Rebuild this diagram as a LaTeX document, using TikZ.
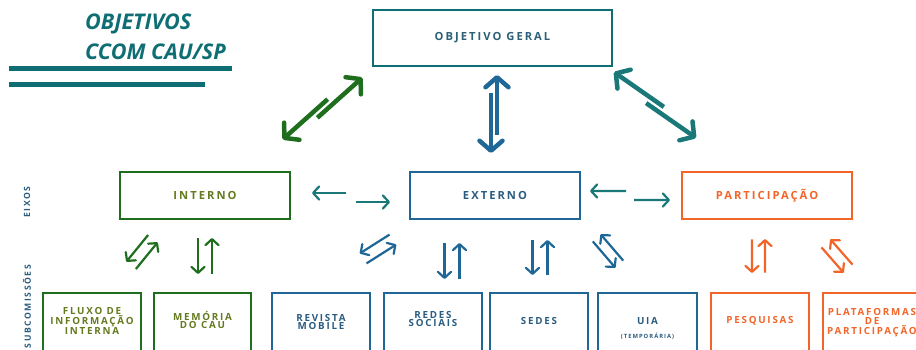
\documentclass[tikz,border=0pt]{standalone}
\usepackage{fontspec}
\setmainfont{Open Sans}
\newfontfamily\espacada{Open Sans}[LetterSpace=18]
\usetikzlibrary{arrows.meta,calc}
\definecolor{tealcau}{HTML}{0F6E73}
\definecolor{tealseta}{HTML}{1A7878}
\definecolor{verde}{HTML}{1E6E1E}
\definecolor{oliva}{HTML}{647A1E}
\definecolor{azul}{HTML}{1F6796}
\definecolor{textoazul}{HTML}{2A5C80}
\definecolor{textogeral}{HTML}{2B6076}
\definecolor{laranja}{HTML}{F2652A}

% par de setas opostas: estilo, ponta 1, ponta 2, fracao, afastamento
\newcommand{\setas}[5]{%
  \draw[#1] ($(#2)!#4!(#3)!#5!90:(#3)$) -- ($(#2)!#5!90:(#3)$);
  \draw[#1] ($(#3)!#4!(#2)!#5!90:(#2)$) -- ($(#3)!#5!90:(#2)$);
}

\begin{document}
\begin{tikzpicture}[x=1pt,y=-1pt,
	caixa/.style={rectangle,draw,line width=2.8pt,minimum width=170pt,minimum height=47pt,
		font={\espacada\bfseries\fontsize{11.2}{13}\selectfont}},
	sub/.style={rectangle,draw,line width=2pt,minimum width=98pt,minimum height=100pt,anchor=north},
	subtxt/.style={align=center,inner sep=0pt,font={\espacada\bfseries\fontsize{9.8}{8.9}\selectfont}},
	seta/.style={line width=2.2pt,-{Straight Barb[length=6pt,width=13pt,round]}},
	setagrande/.style={line width=4.5pt,-{Straight Barb[length=10pt,width=23pt,round]}},
	lateral/.style={rotate=90,inner sep=0pt,text=textoazul,font={\espacada\bfseries\fontsize{8.6}{9}\selectfont}},
	titulo/.style={anchor=base west,inner sep=0pt,text=tealcau,font={\bfseries\itshape\fontsize{21.6}{24}\selectfont}}]
	\useasboundingbox (0,0) rectangle (916,349);

	% titulo
	\node (tit1) at (85,29) [titulo] {OBJETIVOS};
	\node (tit2) at (85,59) [titulo] {CCOM CAU/SP};
	\fill[tealcau] (9,66) rectangle (232,71);
	\fill[tealcau] (9,82) rectangle (205,87);

	% eixos
	\node (geral) at (492.5,38) [caixa,draw=tealcau,minimum width=239pt,minimum height=56pt,text=textogeral] {OBJETIVO GERAL};
	\node (interno) at (205,195.5) [caixa,draw=verde,text=oliva] {INTERNO};
	\node (externo) at (495,195.5) [caixa,draw=azul,text=textoazul] {EXTERNO};
	\node (partic) at (767,195.5) [caixa,draw=laranja,text=laranja] {PARTICIPAÇÃO};
	\node (eixos) at (27,202) [lateral] {EIXOS};
	\node (subcom) at (27,265) [lateral,anchor=east] {SUBCOMISSÕES};

	% subcomissoes
	\node (fluxo) at (92,292) [sub,draw=verde] {};
	\node (memoria) at (202.5,292) [sub,draw=verde,minimum width=97pt] {};
	\node (revista) at (321,292) [sub,draw=azul] {};
	\node (redes) at (433,292) [sub,draw=azul] {};
	\node (sedes) at (539,292) [sub,draw=azul] {};
	\node (uia) at (647.5,292) [sub,draw=azul,minimum width=99pt] {};
	\node (pesq) at (760,292) [sub,draw=laranja] {};
	\node (plat) at (872,292) [sub,draw=laranja] {};
	\node (fluxo-t) at ([yshift=-29pt]fluxo.north) [subtxt,text=oliva] {FLUXO DE\\INFORMAÇÃO\\INTERNA};
	\node (memoria-t) at ([yshift=-28pt]memoria.north) [subtxt,text=oliva] {MEMÓRIA\\DO CAU};
	\node (revista-t) at ([yshift=-30pt]revista.north) [subtxt,text=textoazul] {REVISTA\\MOBILE};
	\node (redes-t) at ([yshift=-27pt]redes.north) [subtxt,text=textoazul] {REDES\\SOCIAIS};
	\node (sedes-t) at ([yshift=-29pt]sedes.north) [subtxt,text=textoazul] {SEDES};
	\node (uia-t) at ([yshift=-36pt]uia.north) [subtxt,text=textoazul] {UIA\\[5pt]{\fontsize{5.8}{6}\selectfont(TEMPORÁRIA)}};
	\node (pesq-t) at ([yshift=-29pt]pesq.north) [subtxt,text=laranja] {PESQUISAS};
	\node (plat-t) at ([yshift=-31pt]plat.north) [subtxt,text=laranja] {PLATAFORMAS\\DE\\PARTICIPAÇÃO};

	% pontas das setas
	\coordinate (ig-a) at (285,142);   \coordinate (ig-b) at (360,75);
	\coordinate (eg-a) at (494,75);    \coordinate (eg-b) at (494,153);
	\coordinate (pg-a) at (612,75);    \coordinate (pg-b) at (698,135);
	\coordinate (ie-a) at (312,197.5); \coordinate (ie-b) at (390,197.5);
	\coordinate (ep-a) at (590,195.5); \coordinate (ep-b) at (670,195.5);
	\coordinate (if-a) at (131,265.5); \coordinate (if-b) at (153,238.5);
	\coordinate (im-a) at (205,238);   \coordinate (im-b) at (205,274);
	\coordinate (er-a) at (363,258.5); \coordinate (er-b) at (393,239.5);
	\coordinate (es-a) at (452,243);   \coordinate (es-b) at (452,279);
	\coordinate (ed-a) at (540,240);   \coordinate (ed-b) at (540,275);
	\coordinate (eu-a) at (596.6,237.7); \coordinate (eu-b) at (619.4,264.3);
	\coordinate (pp-a) at (758.5,239); \coordinate (pp-b) at (758.5,273);
	\coordinate (pl-a) at (825.8,243.2); \coordinate (pl-b) at (848.2,268.8);

	% setas
	\setas{setagrande,verde}{ig-a}{ig-b}{0.6}{3.5pt}
	\setas{setagrande,azul}{eg-a}{eg-b}{0.77}{3pt}
	\setas{setagrande,tealseta}{pg-a}{pg-b}{0.58}{3.5pt}
	\setas{seta,tealseta}{ie-a}{ie-b}{0.44}{4.5pt}
	\setas{seta,tealseta}{ep-a}{ep-b}{0.45}{4.5pt}
	\setas{seta,verde}{if-a}{if-b}{0.99}{6pt}
	\setas{seta,verde}{im-a}{im-b}{0.99}{7pt}
	\setas{seta,azul}{er-a}{er-b}{0.99}{6pt}
	\setas{seta,azul}{es-a}{es-b}{0.99}{7.5pt}
	\setas{seta,azul}{ed-a}{ed-b}{0.99}{7.5pt}
	\setas{seta,azul}{eu-a}{eu-b}{0.99}{5.3pt}
	\setas{seta,laranja}{pp-a}{pp-b}{0.99}{6.5pt}
	\setas{seta,laranja}{pl-a}{pl-b}{0.99}{6pt}
\end{tikzpicture}
\end{document}
